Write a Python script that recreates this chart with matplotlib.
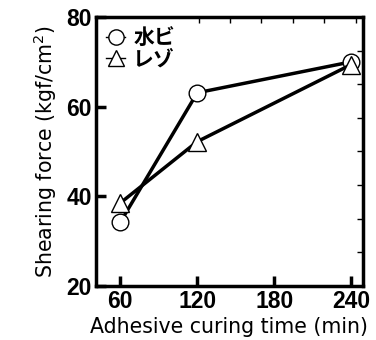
import matplotlib.pyplot as plt

# data
times = [60, 120, 240]
mizubi = [34.2, 63.1, 70.0]
rezo = [38.5, 52.2, 69.4]
labels = ['水ビ', 'レゾ']
xticks = [60, 120, 180, 240]
yticks = [20, 40, 60, 80]

plt.rcParams['font.family'] = ['DejaVu Sans', 'Noto Sans CJK JP']

fig = plt.figure(figsize=(3.76, 3.40), dpi=100)
ax = fig.add_axes([0.255, 0.159, 0.71, 0.791])

ax.plot(times, mizubi, color='black', lw=2.5, marker='o', ms=12,
        mfc='white', mec='black', mew=1.0, label=labels[0], zorder=3)
ax.plot(times, rezo, color='black', lw=2.5, marker='^', ms=13,
        mfc='white', mec='black', mew=1.0, label=labels[1], zorder=3)

ax.set_xlim(41, 249)
ax.set_ylim(20, 80)
ax.set_xticks(xticks)
ax.set_yticks(yticks)
ax.tick_params(direction='in', length=7, width=2.5, labelsize=16.5, pad=3)
for lab in ax.get_xticklabels() + ax.get_yticklabels():
    lab.set_family(['Liberation Sans'])
    lab.set_fontweight('bold')
for s in ax.spines.values():
    s.set_linewidth(2.5)

# small inner ticks on the top and right spines
ax.set_xticks([121, 145.5, 170, 194.5, 219, 243.5], minor=True)
ax.set_yticks([27.5, 35, 42.5, 50, 57.5, 65, 72.5], minor=True)
ax.tick_params(which='minor', direction='in', length=4, width=1,
               bottom=False, left=False, top=True, right=True)

ax.set_xlabel('Adhesive curing time (min)', fontsize=14.8, labelpad=3)
ax.set_ylabel('Shearing force (kgf/cm$^2$)', fontsize=14.8, labelpad=5)

leg = ax.legend(loc='upper left', frameon=False,
                handlelength=0.9, handletextpad=0.4, borderaxespad=0.1,
                labelspacing=0.0,
                prop={'family': ['Noto Sans CJK JP'], 'size': 15, 'weight': 'bold'})
for h in leg.legend_handles:
    h.set_linewidth(1)
    h.set_markersize(11)

fig.savefig('out.png', dpi=100)
